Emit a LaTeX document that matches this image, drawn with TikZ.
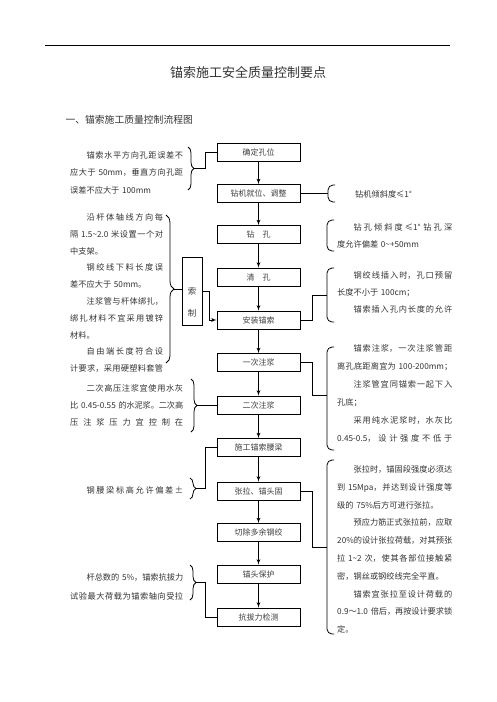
\documentclass[tikz,border=0pt]{standalone}
\usepackage{fontspec}
\setmainfont{Noto Sans CJK SC}
\usepackage{tikz}
\usetikzlibrary{shapes,arrows,decorations.pathreplacing}
\XeTeXlinebreaklocale "zh"
\XeTeXlinebreakskip=0pt plus 1fil minus 0.4pt
\tikzstyle{block} = [rectangle, draw, line width=0.9pt, minimum width=83pt, minimum height=18pt, inner sep=0pt, text=black!75, font=\fontsize{8}{9}\selectfont]
\tikzstyle{line} = [draw, line width=0.8pt, -latex']
\tikzstyle{link} = [draw, line width=0.8pt]
\tikzstyle{note} = [inner sep=0pt, anchor=north west, text=black!80]
\tikzstyle{lbrace} = [draw, line width=0.8pt, decorate, decoration={brace, amplitude=6pt}]
\tikzstyle{rbrack} = [draw, line width=0.8pt, rounded corners=5pt]
\newcommand\nfont[1]{\fontsize{8.2}{#1}\selectfont\parskip=0pt\linepenalty=1000\hyphenpenalty=10000\leftskip=0pt\rightskip=0pt}
\newcommand\jl[2][0pt]{\par{\parindent=#1\parfillskip=0pt\relax\indent#2\par}}
\newcommand\jlast[2][0pt]{\par{\parindent=#1\parfillskip=0pt plus 1fill\relax\indent#2\par}}
\newcommand\tld{\textasciitilde}

\begin{document}
\begin{tikzpicture}[x=1pt, y=-1pt]
\fill [white] (0,0) rectangle (496,702);
\useasboundingbox (0,0) rectangle (496,702);
\draw [line width=0.8pt] (45,45) -- (450,45);
\node (title) at (248,72) [font=\fontsize{13}{15}\selectfont, text=black!80] {锚索施工安全质量控制要点};
\node (heading) at (62,120) [anchor=west, font=\fontsize{9.8}{12}\selectfont, text=black!80] {一、锚索施工质量控制流程图};

% main flow
\node [block] (hole-pos) at (258.5,152) {确定孔位};
\node [block] (rig) at (258.5,193.5) {钻机就位、调整};
\node [block] (drill) at (258.5,234.5) {钻\hspace{1em}孔};
\node [block] (clean) at (258.5,277) {清\hspace{1em}孔};
\node [block] (install) at (258.5,320) {安装锚索};
\node [block] (grout1) at (258.5,362.5) {一次注浆};
\node [block] (grout2) at (258.5,405) {二次注浆};
\node [block] (waler) at (258.5,447.5) {施工锚索腰梁};
\node [block] (tension) at (258.5,491) {张拉、锚头固};
\node [block] (cut) at (258.5,532.5) {切除多余钢绞};
\node [block] (head) at (258.5,574) {锚头保护};
\node [block] (test) at (258.5,617) {抗拔力检测};
\path [line] (hole-pos) -- (rig);
\path [line] (rig) -- (drill);
\path [line] (drill) -- (clean);
\path [line] (clean) -- (install);
\path [line] (install) -- (grout1);
\path [line] (grout1) -- (grout2);
\path [line] (grout2) -- (waler);
\path [line] (waler) -- (tension);
\path [line] (tension) -- (cut);
\path [line] (cut) -- (head);
\path [line] (head) -- (test);

% cable making
\node [rectangle, draw, line width=0.9pt, minimum width=20pt, minimum height=68pt, inner sep=0pt] (cable) at (192,291) {};
\node [align=center, inner sep=0pt, text=black!75, font=\fontsize{8.5}{22}\selectfont] (cable-t) at (192,302.5) {索\\制};
\path [line] (cable.east) -- ++(7,0) |- (install.west);

% left notes
\node [note, text width=113pt, font=\nfont{17.5pt}] (n-spacing) at (70,140.7) {%
\jl[16.4pt]{锚索水平方向孔距误差不}
\jl{应大于 50mm，垂直方向孔距}
\jlast{误差不应大于 100mm}};
\draw [lbrace] (188,147) -- (188,190);
\coordinate (b1) at (194,168.5);
\path [link] (b1) -- ++(11,0) |- (hole-pos.west);

\node [note, text width=93pt, font=\nfont{16.8pt}] (n-cable) at (70,203.4) {%
\jl[16.4pt]{沿杆体轴线方向每}
\jl{隔 1.5\tld2.0 米设置一个对}
\jlast{中支架。}
\jl[16.4pt]{钢绞线下料长度误}
\jlast{差不应大于 50mm。}
\jl[16.4pt]{注浆管与杆体绑扎，}
\jl{绑扎材料不宜采用镀锌}
\jlast{材料。}
\jl[16.4pt]{自由端长度符合设}
\jl{计要求，采用硬塑料套管}};
\draw [lbrace, decoration={brace, amplitude=8pt}] (166,215) -- (166,363);
\coordinate (b2) at (174,289);
\path [link] (b2) -- (b2 -| cable.west);

\node [note, text width=113pt, font=\nfont{17.2pt}] (n-grout2) at (70,374) {%
\jl[16.4pt]{二次高压注浆宜使用水灰}
\jl{比 0.45-0.55 的水泥浆。二次高}
\jl{压注浆压力宜控制在}};
\draw [lbrace] (191,379) -- (191,432);
\coordinate (b3) at (197,405);
\path [link] (b3) -- (grout2.west);

\node [note, text width=113pt, font=\nfont{17pt}] (n-waler) at (70,476.2) {%
\jl[16.4pt]{钢腰梁标高允许偏差±}};
\draw [lbrace] (190,478) -- (190,499);
\coordinate (b4) at (196,488.5);
\path [link] (b4) -- ++(9,0) |- (waler.west);

\node [note, text width=113pt, font=\nfont{19.5pt}] (n-test) at (70,560.7) {%
\jl[16.4pt]{杆总数的 5\%，锚索抗拔力}
\jl{试验最大荷载为锚索轴向受拉}};
\draw [lbrace] (190,565) -- (190,600);
\coordinate (b5) at (196,582.5);
\path [link] (b5) -- ++(9,0) |- (test.west);

% right notes
\node [anchor=west, inner sep=0pt, text=black!80, font=\nfont{10pt}] (n-rig) at (355,194) {钻机倾斜度≤1°};
\draw [rbrack] (335,185) -- (328,185) -- (328,202) -- (335,202);
\coordinate (r1) at (328,193.5);
\path [link] (rig.east) -- (r1);

\node [note, text width=115pt, font=\nfont{17pt}] (n-drill) at (337,213.2) {%
\jl[16.4pt]{钻孔倾斜度≤1° 钻孔深}
\jlast{度允许偏差 0\tld+50mm}};
\draw [rbrack] (334,220) -- (327,220) -- (327,251) -- (334,251);

\node [note, text width=115pt, font=\nfont{17pt}] (n-install) at (337,261.2) {%
\jl[16.4pt]{钢绞线插入时，孔口预留}
\jlast{长度不小于 100cm；}
\jl[16.4pt]{锚索插入孔内长度的允许}};
\draw [rbrack] (334,268) -- (327,268) -- (327,322) -- (334,322);
\coordinate (r3) at (327,295);
\path [link] (install.east) -- ++(12,0) |- (r3);

\node [note, text width=115pt, font=\nfont{18pt}] (n-grout1) at (337,333.2) {%
\jl[16.4pt]{锚索注浆，一次注浆管距}
\jl{离孔底距离宜为 100-200mm；}
\jl[16.4pt]{注浆管宜同锚索一起下入}
\jlast{孔底；}
\jl[16.4pt]{采用纯水泥浆时，水灰比}
\jl{0.45-0.5，设计强度不低于}};
\draw [rbrack] (334,347) -- (327,347) -- (327,450) -- (334,450);
\coordinate (r4) at (327,395);
\path [link] (grout1.east) -- ++(12,0) |- (r4);

\node [note, text width=115pt, font=\nfont{17.8pt}] (n-tension) at (337,454.4) {%
\jl[16.4pt]{张拉时，锚固段强度必须达}
\jl{到 15Mpa，并达到设计强度等}
\jlast{级的 75\%后方可进行张拉。}
\jl[16.4pt]{预应力筋正式张拉前，应取}
\jl{20\%的设计张拉荷载，对其预张}
\jl{拉 1\tld2 次，使其各部位接触紧}
\jlast{密，钢丝或钢绞线完全平直。}
\jl[16.4pt]{锚索宜张拉至设计荷载的}
\jl{0.9～1.0 倍后，再按设计要求锁}
\jlast{定。}};
\draw [rbrack] (334,460) -- (327,460) -- (327,634) -- (334,634);
\coordinate (r5) at (327,547);
\path [link] (tension.east) -- ++(12,0) |- (r5);
\end{tikzpicture}
\end{document}
